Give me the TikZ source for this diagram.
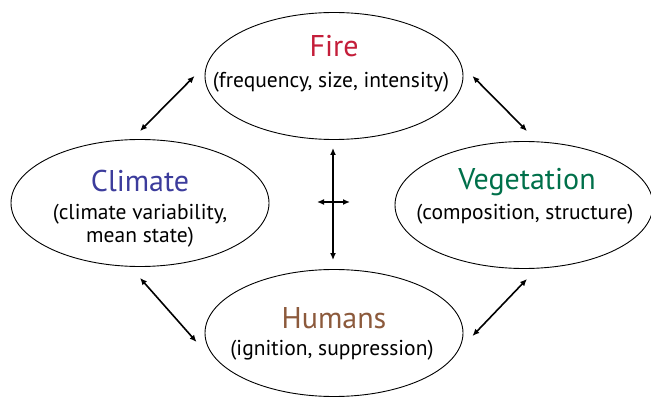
\documentclass[tikz,border=0pt]{standalone}
\usepackage{fontspec}
\setmainfont{PT Sans}
\usepackage{tikz}
\usetikzlibrary{arrows.meta,shapes.geometric,calc}
\definecolor{firered}{RGB}{196,30,58}
\definecolor{climateblue}{RGB}{60,60,156}
\definecolor{vegetgreen}{RGB}{0,112,74}
\definecolor{humanbrown}{RGB}{140,90,60}

\begin{document}
\begin{tikzpicture}[x=1pt,y=-1pt,
  blob/.style={draw,ellipse,line width=0.9pt,minimum width=258pt,minimum height=127pt,inner sep=0pt},
  title/.style={anchor=base,inner sep=0pt,font=\fontsize{30}{34}\selectfont},
  note/.style={anchor=base,inner sep=0pt,align=center,font=\fontsize{21.5}{23}\selectfont},
  link/.style={{Latex[length=7pt,width=6pt]}-{Latex[length=7pt,width=6pt]},line width=1.6pt}]
\useasboundingbox (0,0) rectangle (651,398);
\node[blob] (fire) at (334,76) {};
\node[blob] (climate) at (140,203) {};
\node[blob] (vegetation) at (524,205) {};
\node[blob] (humans) at (334,333) {};
\node[title,text=firered] (firename) at (334,57) {Fire};
\node[note] (firenote) at (331,88) {(frequency, size, intensity)};
\node[title,text=climateblue] (climatename) at (140,192) {Climate};
% base of a two-line note is its last line
\node[note] (climatenote) at (140,243) {(climate variability,\\mean state)};
\node[title,text=vegetgreen] (vegetationname) at (527,190) {Vegetation};
\node[note] (vegetationnote) at (525,220) {(composition, structure)};
\node[title,text=humanbrown] (humansname) at (334,328) {Humans};
\node[note] (humansnote) at (332,355) {(ignition, suppression)};
\draw[link] ([xshift=-10pt]fire.west) -- ([yshift=8pt]climate.north);
\draw[link] ([xshift=9pt]fire.east) -- ([shift={(3pt,10pt)}]vegetation.north);
\draw[link] ([yshift=-11pt]climate.south) -- ([shift={(-8pt,-9pt)}]humans.west);
\draw[link] ([shift={(3pt,-10pt)}]vegetation.south) -- ([shift={(9pt,-3pt)}]humans.east);
% cross in the middle
\coordinate (hubwest) at (317,202);
\coordinate (hubeast) at (350,202);
\draw[link] ([shift={(-1pt,-8pt)}]fire.south) -- ([shift={(-1pt,9pt)}]humans.north);
\draw[link] (hubwest) -- (hubeast);
\end{tikzpicture}
\end{document}
